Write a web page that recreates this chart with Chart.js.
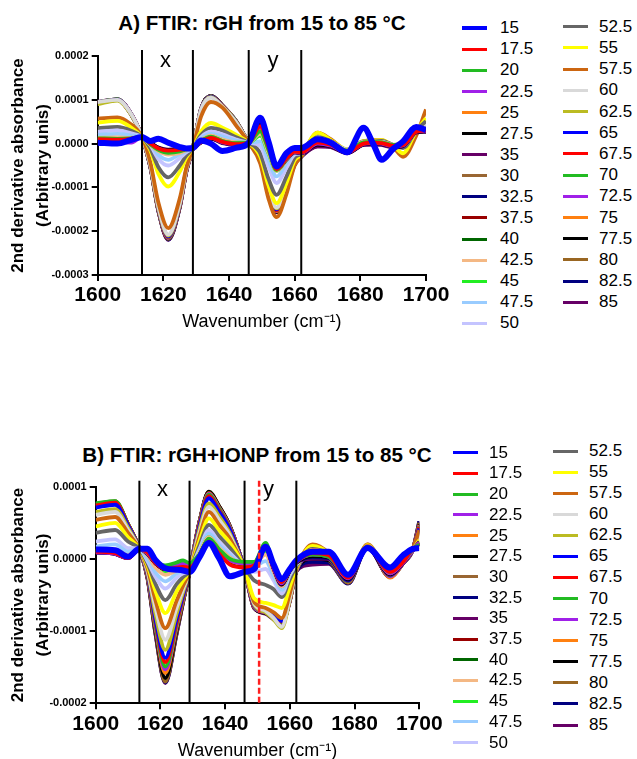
<!DOCTYPE html>
<html>
<head>
<meta charset="utf-8">
<script src="https://cdn.jsdelivr.net/npm/chart.js@4.4.1/dist/chart.umd.min.js"></script>
<style>
  body { margin: 0; background: #fff; width: 637px; height: 759px; position: relative; overflow: hidden;
         font-family: "Liberation Sans", Arial, sans-serif; color: #000; }
  .box { position: absolute; }
  .ttl { position: absolute; font-weight: bold; font-size: 20.6px; line-height: 24px; white-space: nowrap; transform: translateX(-50%); }
  .lline { position: absolute; }
  .ltext { position: absolute; font-size: 17px; line-height: 20px; white-space: nowrap; }
</style>
</head>
<body>
<div class="ttl" style="left:262px;top:11px">A) FTIR: rGH from 15 to 85 °C</div>
<div class="ttl" style="left:257px;top:443px">B) FTIR: rGH+IONP from 15 to 85 °C</div>
<div class="box" style="left:0;top:40px;width:460px;height:300px"><canvas id="chartA"></canvas></div>
<div class="box" style="left:0;top:460px;width:460px;height:310px"><canvas id="chartB"></canvas></div>
<div id="legends"></div>
<script>
// all series values are in units of 1e-6 (2nd derivative absorbance)
const UNIT = 1e-6;

const tempColors = {
  '15': '#0000ff', '17.5': '#ff0000', '20': '#22bb22', '22.5': '#a020e8', '25': '#ff8010',
  '27.5': '#000000', '30': '#996633', '32.5': '#000080', '35': '#660066', '37.5': '#990000',
  '40': '#006600', '42.5': '#f4b884', '45': '#22ee22', '47.5': '#99ccff', '50': '#c4c4ff',
  '52.5': '#666666', '55': '#ffff00', '57.5': '#cc6611', '60': '#d9d9d9', '62.5': '#bbbb22',
  '65': '#0000ff', '67.5': '#ff0000', '70': '#22bb22', '72.5': '#a020e8', '75': '#ff8010',
  '77.5': '#000000', '80': '#996622', '82.5': '#000080', '85': '#660066'
};

// ---------- panel A : rGH ----------
const wavenumberA = [1600, 1606, 1610, 1613.5, 1616, 1618.5, 1621.5, 1625, 1627, 1629, 1631.5, 1634.5, 1638, 1642, 1646,
  1649.5, 1652, 1654.5, 1657.5, 1660, 1662, 1667, 1671, 1676, 1681, 1684, 1686.5, 1690, 1693, 1697, 1700];
const labelsA = ['15', '17.5', '20', '22.5', '25', '27.5', '35', '30', '32.5', '37.5', '40', '42.5', '45', '47.5', '50',
  '52.5', '55', '57.5', '60', '62.5', '65', '67.5', '70', '72.5', '75', '77.5', '80', '82.5', '85'];

const A_15   = [2, 0, 8, 15, 6, 11, 2, -8, -11, -10, 7, 0, -17, -10, 2, 59, 5, -52, -22, -10, -10, 10, 2, -20, 36, -2, -37, -12, 5, 38, 31];
const A_17_5 = [10, 9, 11, 15, 1, -11, -16, -14, -12, -10, 4, 13, 4, -1, 2, 40, -6, -58, -33, -18, -20, 2, -3, -19, 0, 2, 1, -5, -3, 27, 30];
const A_20   = [12, 11, 12, 15, -1, -14, -21, -18, -13, -10, 6, 16, 6, 1, 2, 28, -14, -60, -34, -17, -19, 6, 1, -16, 3, 4, 3, -3, -1, 29, 32];
const A_22_5 = [6, 5, 2, 15, 0, -12, -17, -15, -12, -10, 4, 13, 3, -1, 2, 38, -8, -59, -35, -19, -21, 0, -5, -20, -1, 1, 0, -6, -4, 27, 29];
const A_25   = [9, 9, 10, 15, 0, -13, -19, -16, -12, -10, 5, 15, 6, 1, 2, 36, -9, -60, -35, -18, -20, 8, 2, -16, 3, 4, 3, -3, -2, 28, 31];
const A_27_5 = [7, 6, 9, 15, 2, -10, -15, -13, -11, -10, 3, 12, 2, -2, 2, 42, -5, -59, -36, -19, -21, -2, -6, -21, -2, 0, -1, -7, -5, 26, 28];
const A_35   = [5, 5, 8, 15, 2, -9, -14, -12, -11, -10, 3, 11, 1, -3, 2, 47, -2, -56, -36, -20, -22, -6, -8, -22, -3, -2, -3, -9, -6, 25, 27];
const A_30   = [8, 8, 9, 15, 1, -12, -18, -15, -12, -10, 5, 14, 5, 0, 2, 45, -4, -58, -35, -19, -20, 3, -2, -18, 1, 2, 1, -5, -3, 27, 30];
const A_32_5 = [6, 6, 8, 15, 2, -10, -15, -13, -11, -10, 3, 12, 2, -2, 2, 46, -3, -57, -36, -20, -21, -4, -7, -21, -2, -1, -2, -8, -6, 26, 28];
const A_37_5 = [7, 7, 9, 15, 1, -11, -16, -14, -12, -10, 4, 13, 3, -1, 2, 44, -4, -58, -35, -19, -21, -3, -5, -20, -1, 0, -1, -6, -4, 26, 29];
const A_40   = [8, 8, 10, 15, 1, -12, -17, -15, -12, -10, 4, 14, 4, 0, 2, 40, -6, -59, -35, -19, -20, 0, -3, -19, 0, 1, 0, -5, -3, 27, 30];
const A_42_5 = [13, 14, 13, 15, -3, -17, -25, -21, -15, -10, 8, 18, 9, 3, 2, 22, -20, -62, -38, -19, -20, 8, 2, -16, 3, 4, 3, -3, -2, 28, 32];
const A_45   = [11, 12, 12, 15, -2, -15, -22, -19, -14, -10, 7, 17, 8, 2, 2, 18, -22, -62, -37, -18, -19, 6, 1, -17, 2, 3, 2, -4, -2, 28, 31];
const A_47_5 = [20, 22, 19, 15, 1, -26, -37, -24, -17, -10, 12, 22, 16, 7, 2, 5, -38, -75, -45, -22, -22, 10, 3, -15, 3, 3, 3, -3, -3, 28, 32];
const A_50   = [27, 30, 24, 15, -3, -35, -50, -33, -20, -10, 15, 27, 21, 10, 2, -5, -52, -90, -55, -25, -22, 12, 4, -14, 4, 4, 4, -3, -5, 28, 35];
const A_52_5 = [35, 38, 30, 15, -10, -54, -77, -50, -27, -10, 20, 36, 30, 15, 2, -22, -80, -117, -75, -32, -24, 15, 6, -14, 5, 5, 6, -3, -10, 30, 51];
const A_55   = [48, 52, 38, 15, -15, -69, -98, -64, -32, -10, 28, 47, 36, 21, 2, -30, -95, -136, -90, -38, -26, 25, 8, -13, 6, 7, 8, -5, -22, 28, 58];
const A_57_5 = [57, 60, 45, 15, -42, -135, -193, -125, -55, -10, 62, 95, 82, 43, 2, -45, -125, -168, -115, -50, -30, 25, 10, -15, 5, 8, 8, -8, -30, 18, 78];
const A_60   = [95, 100, 70, 15, -47, -145, -208, -136, -58, -10, 78, 105, 84, 50, 2, -33, -108, -146, -98, -44, -28, 18, 8, -15, 4, 5, 6, -3, -6, 28, 45];
const A_62_5 = [90, 98, 68, 15, -48, -147, -210, -138, -59, -10, 77, 106, 85, 51, 2, -34, -109, -148, -99, -45, -28, 14, 6, -16, 3, 4, 5, -4, -6, 28, 42];
const A_65   = [92, 100, 69, 15, -49, -148, -212, -139, -60, -10, 78, 107, 85, 51, 2, -35, -110, -150, -100, -45, -28, 12, 5, -16, 3, 4, 4, -4, -6, 28, 40];
const A_67_5 = [93, 100, 69, 15, -49, -149, -213, -140, -61, -10, 78, 107, 86, 51, 2, -35, -111, -152, -101, -45, -28, 10, 4, -17, 2, 3, 3, -5, -6, 27, 38];
const A_70   = [94, 101, 69, 15, -50, -150, -214, -140, -61, -10, 79, 108, 86, 52, 2, -35, -111, -152, -101, -46, -28, 10, 4, -17, 2, 3, 3, -5, -7, 27, 38];
const A_72_5 = [95, 101, 70, 15, -50, -151, -215, -141, -62, -10, 79, 108, 86, 52, 2, -36, -112, -153, -102, -46, -29, 8, 3, -18, 1, 2, 2, -6, -7, 27, 37];
const A_75   = [93, 100, 69, 15, -51, -152, -216, -142, -62, -10, 79, 108, 86, 52, 2, -36, -112, -154, -102, -46, -29, 20, 8, -15, 4, 5, 6, -3, -8, 28, 42];
const A_77_5 = [94, 101, 70, 15, -51, -153, -217, -143, -63, -10, 80, 109, 87, 52, 2, -36, -113, -155, -103, -47, -29, 2, -2, -19, 0, 1, 1, -6, -7, 27, 36];
const A_80   = [95, 101, 70, 15, -52, -153, -218, -144, -63, -10, 80, 109, 87, 53, 2, -37, -113, -155, -103, -47, -29, 5, 0, -18, 1, 2, 2, -5, -8, 27, 40];
const A_82_5 = [94, 100, 70, 15, -52, -154, -219, -145, -64, -10, 80, 109, 87, 53, 2, -37, -114, -156, -104, -47, -30, -2, -4, -20, -1, 0, 0, -7, -7, 26, 35];
const A_85   = [95, 101, 70, 15, -53, -155, -220, -146, -64, -10, 80, 109, 87, 53, 2, -37, -114, -157, -104, -48, -30, -6, -6, -21, -2, -1, -1, -8, -7, 26, 34];

const seriesA = [A_15, A_17_5, A_20, A_22_5, A_25, A_27_5, A_35, A_30, A_32_5, A_37_5, A_40, A_42_5, A_45, A_47_5, A_50,
  A_52_5, A_55, A_57_5, A_60, A_62_5, A_65, A_67_5, A_70, A_72_5, A_75, A_77_5, A_80, A_82_5, A_85];
const yRangeA = [-0.0003, 0.0002];
const regionLinesA = [1613.5, 1629, 1646, 1662];

// ---------- panel B : rGH + IONP ----------
const wavenumberB = [1600, 1606, 1610, 1613.5, 1616, 1618.5, 1621.5, 1625, 1627, 1629, 1632, 1635, 1638, 1641.5, 1646,
  1649, 1652.5, 1655, 1657.5, 1660, 1662, 1667, 1672, 1678, 1684, 1691, 1695, 1698, 1700];
const labelsB = ['15', '17.5', '20', '22.5', '25', '27.5', '30', '32.5', '35', '37.5', '40', '42.5', '45', '47.5', '50',
  '52.5', '55', '57.5', '60', '62.5', '65', '67.5', '70', '72.5', '75', '77.5', '80', '82.5', '85'];

const B_15   = [13, 12, 3, 14, 14, -2, -13, -15, -16, -18, 2, 22, 2, -24, -18, -14, 17, -8, -28, -14, -2, 10, 10, -22, 15, -12, 5, 14, 15];
const B_17_5 = [10, 8, 1, 14, 9, -6, -14, -12, -11, -12, 3, 24, 8, -8, -12, -9, 16, -12, -32, -14, -4, 8, 5, -26, 16, -18, -4, 14, 16];
const B_20   = [11, 10, 3, 14, 10, -3, -9, -5, -2, -6, 6, 28, 14, 0, -4, -4, 22, -10, -32, -14, -3, 6, 3, -25, 17, -18, -3, 13, 20];
const B_22_5 = [9, 7, 1, 14, 8, -5, -13, -9, -6, -9, 5, 27, 12, -2, -6, -6, 19, -13, -34, -15, -4, 6, 3, -27, 17, -20, -5, 12, 22];
const B_25   = [10, 8, 2, 14, 8, -5, -13, -9, -6, -9, 5, 27, 12, -2, -7, -6, 18, -12, -33, -15, -4, 12, 6, -26, 18, -20, -4, 12, 22];
const B_27_5 = [9, 7, 1, 14, 8, -6, -14, -10, -7, -10, 4, 26, 11, -3, -8, -7, 18, -13, -35, -16, -5, 4, 2, -28, 16, -21, -5, 12, 21];
const B_30   = [10, 8, 2, 14, 8, -5, -13, -9, -6, -9, 5, 27, 12, -2, -7, -6, 18, -12, -34, -15, -4, 10, 5, -27, 17, -20, -4, 12, 22];
const B_32_5 = [9, 7, 1, 14, 7, -6, -14, -10, -7, -10, 4, 26, 11, -3, -8, -8, 17, -13, -35, -16, -5, 2, 1, -29, 16, -21, -5, 12, 22];
const B_35   = [9, 7, 1, 14, 7, -6, -14, -10, -8, -10, 4, 25, 10, -4, -8, -8, 16, -14, -36, -16, -5, 0, 0, -29, 15, -22, -6, 12, 23];
const B_37_5 = [10, 8, 2, 14, 8, -6, -14, -10, -7, -10, 4, 26, 11, -3, -8, -7, 17, -13, -35, -16, -5, 3, 2, -28, 16, -21, -5, 12, 22];
const B_40   = [10, 8, 2, 14, 8, -5, -13, -9, -6, -9, 5, 27, 12, -2, -7, -6, 18, -12, -34, -15, -4, 6, 3, -27, 17, -20, -4, 12, 22];
const B_42_5 = [12, 12, 5, 14, 5, -12, -22, -16, -12, -14, 8, 30, 16, 2, -9, -8, 6, -18, -38, -18, -6, 10, 5, -27, 17, -20, -4, 12, 22];
const B_45   = [11, 11, 4, 14, 6, -10, -18, -13, -10, -12, 7, 30, 15, 1, -8, -7, 10, -16, -38, -17, -5, 8, 4, -26, 17, -19, -4, 12, 21];
const B_47_5 = [17, 20, 10, 14, 0, -19, -31, -20, -17, -15, 10, 35, 20, 5, -10, -10, -3, -24, -43, -20, -7, 10, 5, -27, 17, -20, -4, 12, 22];
const B_50   = [24, 27, 15, 14, -3, -25, -41, -26, -20, -16, 13, 40, 24, 8, -11, -18, -14, -30, -48, -22, -8, 12, 6, -27, 18, -20, -4, 12, 22];
const B_52_5 = [36, 40, 24, 14, -6, -35, -57, -35, -25, -17, 18, 47, 32, 15, -12, -30, -36, -42, -53, -28, -10, 14, 6, -26, 18, -19, -5, 12, 24];
const B_55   = [45, 50, 30, 14, -9, -45, -75, -45, -30, -17, 24, 56, 40, 22, -13, -55, -61, -64, -68, -38, -12, 18, 8, -25, 19, -18, -3, 13, 26];
const B_57_5 = [54, 58, 36, 14, -13, -58, -96, -58, -37, -18, 30, 65, 48, 28, -14, -60, -68, -74, -82, -48, -14, 20, 8, -28, 20, -20, -4, 14, 40];
const B_60   = [61, 65, 40, 14, -16, -68, -112, -68, -42, -18, 35, 72, 55, 32, -15, -62, -72, -82, -94, -54, -15, 15, 6, -28, 20, -15, -2, 14, 30];
const B_62_5 = [65, 69, 43, 14, -18, -77, -126, -76, -46, -18, 40, 77, 60, 35, -15, -64, -74, -84, -96, -56, -16, 12, 5, -28, 19, -16, -3, 14, 38];
const B_65   = [71, 75, 46, 14, -20, -84, -137, -83, -50, -18, 44, 84, 66, 40, -15, -65, -72, -78, -86, -55, -16, 10, 3, -30, 19, -22, -5, 13, 42];
const B_67_5 = [74, 78, 47, 14, -21, -87, -143, -87, -52, -18, 46, 87, 68, 41, -15, -66, -72, -80, -87, -56, -16, 8, 2, -30, 19, -22, -5, 13, 44];
const B_70   = [77, 80, 48, 14, -22, -91, -149, -90, -54, -18, 47, 89, 70, 42, -15, -66, -73, -80, -88, -56, -16, 6, 1, -31, 18, -23, -5, 13, 45];
const B_72_5 = [73, 77, 47, 14, -23, -93, -153, -92, -55, -18, 48, 90, 71, 43, -15, -67, -74, -81, -89, -57, -17, 4, 0, -31, 18, -24, -6, 13, 46];
const B_75   = [76, 79, 48, 14, -24, -96, -158, -95, -57, -18, 49, 91, 72, 44, -15, -67, -74, -82, -89, -57, -17, 18, 6, -32, 20, -26, -6, 13, 47];
const B_77_5 = [75, 79, 48, 14, -25, -100, -165, -99, -58, -18, 50, 93, 74, 45, -15, -68, -75, -83, -90, -57, -17, 0, -2, -32, 17, -25, -6, 13, 48];
const B_80   = [76, 80, 48, 14, -26, -103, -170, -102, -59, -18, 50, 93, 74, 45, -15, -68, -75, -83, -90, -58, -17, 2, -2, -33, 17, -25, -6, 13, 50];
const B_82_5 = [74, 78, 47, 14, -26, -104, -171, -103, -60, -18, 50, 92, 73, 45, -15, -68, -75, -83, -90, -58, -17, -4, -5, -34, 16, -25, -6, 13, 52];
const B_85   = [75, 79, 48, 14, -27, -105, -172, -104, -60, -18, 50, 92, 73, 45, -15, -68, -76, -84, -90, -58, -17, -8, -7, -34, 16, -25, -6, 13, 52];

const seriesB = [B_15, B_17_5, B_20, B_22_5, B_25, B_27_5, B_30, B_32_5, B_35, B_37_5, B_40, B_42_5, B_45, B_47_5, B_50,
  B_52_5, B_55, B_57_5, B_60, B_62_5, B_65, B_67_5, B_70, B_72_5, B_75, B_77_5, B_80, B_82_5, B_85];
const yRangeB = [-0.0002, 0.0001];
const regionLinesB = [1613.5, 1629, 1646, 1662];
const dashedLineB = 1650.5;
const regionNames = ['x', 'y'];

// ---------- drawing ----------
Chart.defaults.font.family = '"Liberation Sans", Arial, sans-serif';
Chart.defaults.color = '#000';

// vertical band lines, their letters and the red dashed marker
const regionPlugin = {
  id: 'regions',
  afterDatasetsDraw(chart, args, opts) {
    const { ctx, chartArea, scales } = chart;
    const xs = scales.x;
    ctx.save();
    ctx.strokeStyle = '#000';
    ctx.lineWidth = 2;
    opts.lines.forEach(v => {
      const px = xs.getPixelForValue(v);
      ctx.beginPath();
      ctx.moveTo(px, chartArea.top - 6);
      ctx.lineTo(px, chartArea.bottom);
      ctx.stroke();
    });
    if (opts.dashed) {
      const px = xs.getPixelForValue(opts.dashed);
      ctx.strokeStyle = '#ff2020';
      ctx.lineWidth = 2.5;
      ctx.setLineDash([6, 3]);
      ctx.beginPath();
      ctx.moveTo(px, chartArea.top - 6);
      ctx.lineTo(px, chartArea.bottom);
      ctx.stroke();
      ctx.setLineDash([]);
    }
    ctx.fillStyle = '#000';
    ctx.font = '22px "Liberation Sans", Arial, sans-serif';
    ctx.textAlign = 'center';
    ctx.textBaseline = 'alphabetic';
    regionNames.forEach((name, i) => {
      const mid = (opts.lines[i * 2] + opts.lines[i * 2 + 1]) / 2;
      ctx.fillText(name, xs.getPixelForValue(mid) - 2, chartArea.top + opts.labelDy);
    });
    ctx.restore();
  }
};

function makeSets(xs, labels, series) {
  return labels.map((t, i) => ({
    label: t,
    data: series[i].map((v, j) => ({ x: xs[j], y: v * UNIT })),
    borderColor: tempColors[t],
    backgroundColor: tempColors[t],
    borderWidth: t === '15' ? 6 : 3.8,
    pointRadius: 0,
    cubicInterpolationMode: 'monotone',
    fill: false
  }));
}

function makeChart(id, xs, labels, series, yRange, lines, dashed, box) {
  return new Chart(document.getElementById(id), {
    type: 'line',
    data: { datasets: makeSets(xs, labels, series) },
    plugins: [regionPlugin],
    options: {
      responsive: true,
      maintainAspectRatio: false,
      animation: false,
      layout: { padding: { top: box.top, right: box.right, left: 0, bottom: 0 } },
      plugins: {
        legend: { display: false },
        tooltip: { enabled: false },
        regions: { lines: lines, dashed: dashed, labelDy: box.labelDy }
      },
      scales: {
        x: {
          type: 'linear', min: 1600, max: 1700,
          ticks: { stepSize: 20, font: { size: 21, weight: 'bold' }, padding: 2, maxRotation: 0,
                   callback: v => String(v) },
          grid: { drawOnChartArea: false, drawTicks: true, tickLength: 6, color: '#000', lineWidth: 2 },
          border: { display: true, color: '#000', width: 2 },
          title: { display: true, text: 'Wavenumber (cm⁻¹)', font: { size: 18 }, padding: { top: 0, bottom: box.xTitlePad } },
          afterFit: s => { s.height = box.xHeight; }
        },
        y: {
          min: yRange[0], max: yRange[1],
          ticks: { stepSize: 0.0001, font: { size: 11, weight: 'bold' }, padding: 3,
                   callback: v => Math.abs(v) < 1e-9 ? '0.0000' : v.toFixed(4) },
          grid: { drawOnChartArea: false, drawTicks: true, tickLength: 6, color: '#000', lineWidth: 2 },
          border: { display: true, color: '#000', width: 2 },
          title: { display: true, text: ['2nd derivative absorbance', '(Arbitrary unis)'],
                   font: { size: 17, weight: 'bold', lineHeight: 1.45 }, padding: { top: 6 } },
          afterFit: s => { s.width = box.yWidth; }
        }
      }
    }
  });
}

makeChart('chartA', wavenumberA, labelsA, seriesA, yRangeA, regionLinesA, null,
  { top: 16, right: 34, xHeight: 65, xTitlePad: 7, yWidth: 97.7, labelDy: 11 });
makeChart('chartB', wavenumberB, labelsB, seriesB, yRangeB, regionLinesB, dashedLineB,
  { top: 26.7, right: 40.7, xHeight: 66.7, xTitlePad: 8.4, yWidth: 95.7, labelDy: 9 });

// legends (two columns, same colours as the curves)
function buildLegend(labels, cfg) {
  const host = document.getElementById('legends');
  labels.forEach((t, i) => {
    const col = i < cfg.split ? 0 : 1;
    const k = col ? i - cfg.split : i;
    const y = cfg.y0[col] + k * cfg.dy[col];
    const ln = document.createElement('div');
    ln.className = 'lline';
    const h = (t === '15' && cfg.thick15) ? 4 : 3;
    ln.style.cssText = 'left:' + cfg.lx[col] + 'px;top:' + (y - h / 2) + 'px;width:25px;height:' + h + 'px;background:' + tempColors[t];
    host.appendChild(ln);
    const tx = document.createElement('div');
    tx.className = 'ltext';
    tx.textContent = t;
    tx.style.left = cfg.tx[col] + 'px';
    tx.style.top = (y - 10) + 'px';
    host.appendChild(tx);
  });
}
buildLegend(labelsA, { split: 15, lx: [462, 563], tx: [500, 599], y0: [28.3, 26.7], dy: [21.07, 21.2], thick15: true });
buildLegend(labelsB, { split: 15, lx: [453, 553], tx: [489, 589], y0: [452.7, 451], dy: [20.7, 21.08], thick15: false });
</script>
</body>
</html>
